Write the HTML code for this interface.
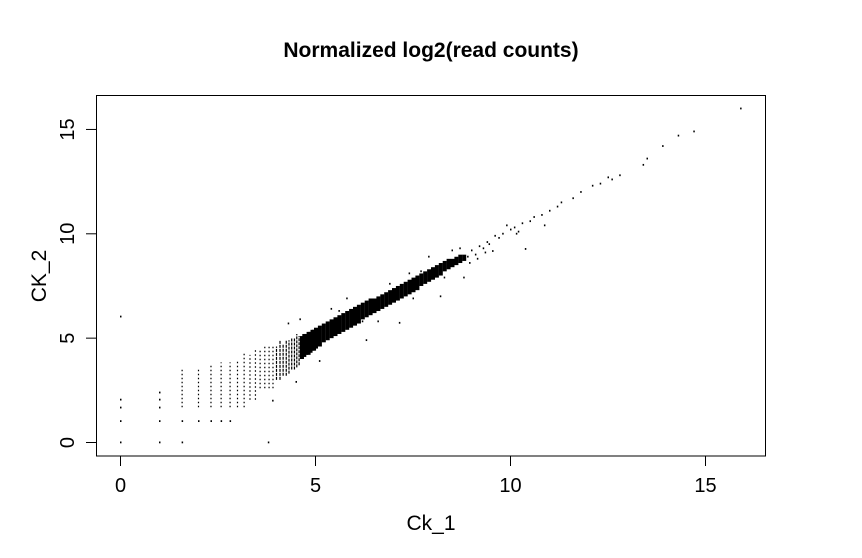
<!DOCTYPE html>
<html><head><meta charset="utf-8"><style>
body{margin:0;background:#fff}
svg text{font-family:"Liberation Sans",Arial,sans-serif;fill:#000}
</style></head><body>
<svg id="chart" width="862" height="553" xmlns="http://www.w3.org/2000/svg">
<rect width="862" height="553" fill="#fff"/>
<text x="431" y="57" text-anchor="middle" font-size="21" font-weight="bold">Normalized log2(read counts)</text>
<rect x="96.5" y="95.5" width="669" height="360.5" fill="none" stroke="#000" stroke-width="1"/>
<g id="xaxis"></g>
<g id="yaxis"></g>
<g id="marks"></g>
<text x="431" y="530" text-anchor="middle" font-size="21">Ck_1</text>
<text transform="translate(46,276) rotate(-90)" text-anchor="middle" font-size="21">CK_2</text>
</svg>
<script>
const xTicks=[0,5,10,15];
const yTicks=[0,5,10,15];
// discrete low-count columns (dotted): x, low y, high y
const colX=[1.58,2.0,2.32,2.58,2.81,3.0,3.17,3.32,3.46,3.58,3.70,3.81,3.91,4.0,4.09,4.17,4.25,4.32,4.39,4.46,4.52,4.58];
const colLo=[1.69,1.69,1.69,1.69,1.69,1.69,1.69,2.05,2.05,2.6,2.6,2.6,2.6,3.0,3.0,3.2,3.2,3.3,3.5,3.5,3.6,3.7];
const colHi=[3.53,3.53,3.7,3.84,3.84,3.92,4.3,4.2,4.5,4.4,4.6,4.6,4.7,4.6,4.9,4.7,4.9,4.9,5.0,5.0,5.2,5.1];
// dense band: x, low y, high y
const bandX=[4.64,4.70,4.75,4.81,4.86,4.91,4.95,5.0,5.1,5.2,5.3,5.4,5.5,5.6,5.7,5.8,5.9,6.0,6.1,6.2,6.3,6.4,6.5,6.6,6.7,6.8,6.9,7.0,7.1,7.2,7.3,7.4,7.5,7.6,7.7,7.8,7.9,8.0,8.1,8.2,8.3,8.4,8.5,8.6,8.7,8.8];
const bandLo=[4.0,4.1,4.2,4.2,4.3,4.4,4.4,4.5,4.6,4.8,4.9,5.0,5.1,5.2,5.3,5.4,5.5,5.6,5.7,5.9,6.0,6.1,6.2,6.3,6.4,6.5,6.6,6.7,6.8,6.9,7.0,7.1,7.2,7.3,7.5,7.6,7.7,7.8,7.9,8.0,8.2,8.3,8.4,8.5,8.6,8.7];
const bandHi=[5.1,5.2,5.2,5.3,5.3,5.4,5.4,5.5,5.6,5.7,5.8,5.9,6.0,6.1,6.2,6.3,6.4,6.5,6.6,6.7,6.8,6.9,6.9,7.0,7.1,7.2,7.3,7.4,7.5,7.6,7.7,7.8,7.9,8.0,8.1,8.2,8.3,8.4,8.5,8.6,8.7,8.8,8.8,8.9,9.0,9.0];
// individual points
const ptX=[0,0,0,0,0,1,1,1,1,1,1.58,1.58,2.0,2.32,2.58,2.81,3.79,3.9,4.3,4.5,4.6,5.1,5.4,6.3,7.15,7.4,8.2,9.54,9.6,9.8,10.0,10.1,10.2,10.3,10.38,10.5,10.6,10.8,10.87,11.0,11.2,11.3,11.6,11.8,12.1,12.3,12.5,12.6,12.8,13.4,13.5,13.9,14.3,14.7,15.9,5.8,6.6,7.9,8.8,9.9,8.9,9.0,9.1,9.2,9.3,9.4,8.95,9.15,9.35,9.45,8.7,8.5,8.3,7.7,7.5,6.9,6.2,5.6,9.7,10.15];
const ptY=[0,1.02,1.67,2.05,6.03,0,1.02,1.67,2.05,2.39,0,1.02,1.02,1.02,1.02,1.02,0,2.0,5.7,2.9,5.9,3.9,6.4,4.9,5.73,8.1,7.0,9.17,9.9,10.0,10.2,10.3,10.1,10.5,9.27,10.6,10.8,10.9,10.4,11.1,11.3,11.5,11.7,12.0,12.3,12.4,12.7,12.6,12.8,13.3,13.6,14.2,14.7,14.9,16.0,6.9,5.8,8.9,7.9,10.4,8.9,9.2,9.0,9.4,9.3,9.6,8.6,8.8,9.1,9.5,9.3,9.2,7.9,8.2,6.9,7.6,5.8,6.3,9.8,10.0];

const X=v=>120.5+v*39.0;
const Y=v=>442.5-v*20.87;
const NS='http://www.w3.org/2000/svg';
function mk(tag,attrs,parent){const e=document.createElementNS(NS,tag);for(const k in attrs)e.setAttribute(k,attrs[k]);parent.appendChild(e);return e;}
const xa=document.getElementById('xaxis'),ya=document.getElementById('yaxis'),mg=document.getElementById('marks');
mk('line',{x1:X(xTicks[0]),x2:X(xTicks[xTicks.length-1]),y1:456,y2:456,stroke:'#000'},xa);
xTicks.forEach(t=>{
  const l=mk('line',{x1:X(t),x2:X(t),y1:456,y2:466,stroke:'#000'},xa);
  
  
  const tx=mk('text',{x:X(t),y:492,'text-anchor':'middle','font-size':'20'},xa);tx.textContent=t;
  
  
});
mk('line',{x1:96.5,x2:96.5,y1:Y(yTicks[0]),y2:Y(yTicks[yTicks.length-1]),stroke:'#000'},ya);
yTicks.forEach(t=>{
  const l=mk('line',{x1:86,x2:96.5,y1:Y(t),y2:Y(t),stroke:'#000'},ya);
  
  
  const tx=mk('text',{transform:`translate(74,${Y(t)}) rotate(-90)`,'text-anchor':'middle','font-size':'20'},ya);tx.textContent=t;
  
  
});
colX.forEach((x,i)=>{
  const l=mk('line',{x1:X(x),x2:X(x),y1:Y(colLo[i]),y2:Y(colHi[i]),stroke:'#000','stroke-width':1.2,'stroke-dasharray':i>12?'3 1':'1.5 2.5'},mg);
  
  
});
bandX.forEach((x,i)=>{
  const r=mk('rect',{x:X(x)-1.5,y:Y(bandHi[i]),width:4,height:Y(bandLo[i])-Y(bandHi[i]),fill:'#000'},mg);
  
  
});
ptX.forEach((x,i)=>{
  const r=mk('rect',{x:X(x)-0.5,y:Y(ptY[i])-1,width:1.5,height:1.8,fill:'#000'},mg);
  
  
});
</script>
</body></html>
